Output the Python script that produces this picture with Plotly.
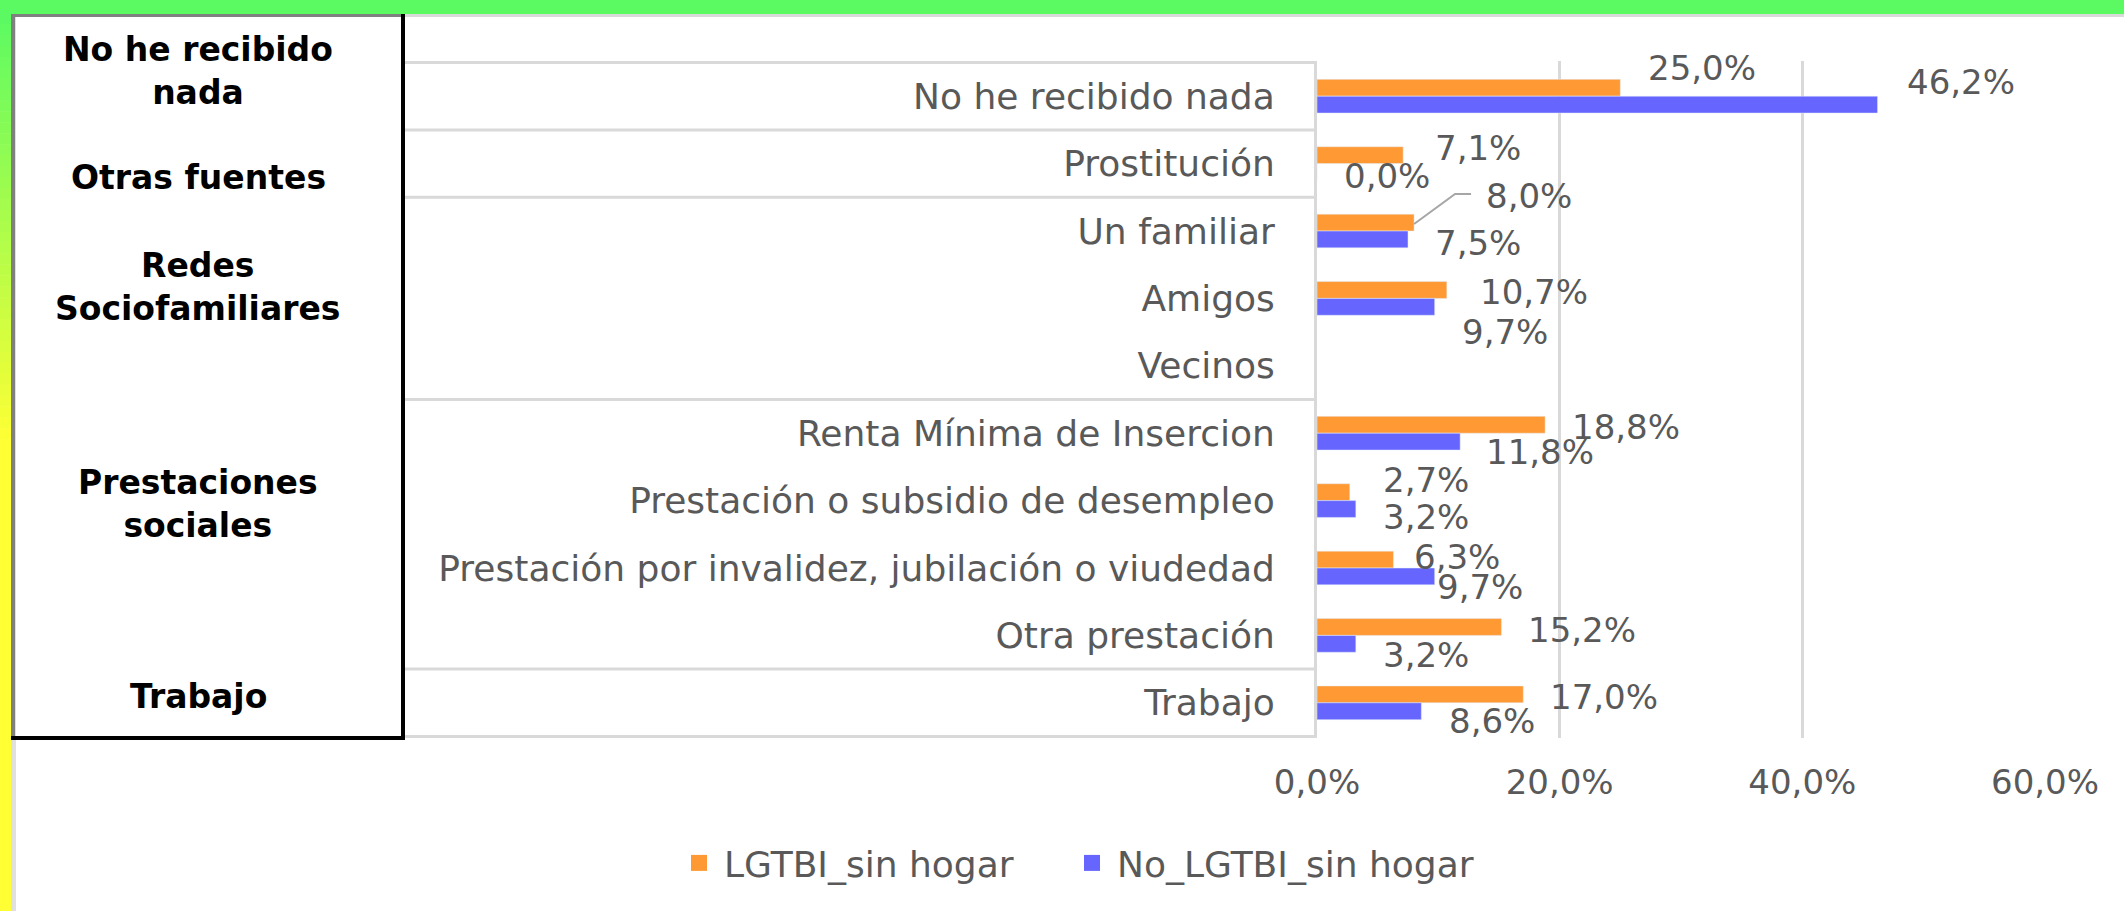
import plotly.graph_objects as go

# ---------------- data ----------------
categories = [
    "No he recibido nada",
    "Prostitución",
    "Un familiar",
    "Amigos",
    "Vecinos",
    "Renta Mínima de Insercion",
    "Prestación o subsidio de desempleo",
    "Prestación por invalidez, jubilación o viudedad",
    "Otra prestación",
    "Trabajo",
]
lgtbi = [25.0, 7.1, 8.0, 10.7, None, 18.8, 2.7, 6.3, 15.2, 17.0]
no_lgtbi = [46.2, 0.0, 7.5, 9.7, None, 11.8, 3.2, 9.7, 3.2, 8.6]
series_names = ["LGTBI_sin hogar", "No_LGTBI_sin hogar"]
group_labels = ["No he recibido<br>nada", "Otras fuentes", "Redes<br>Sociofamiliares",
                "Prestaciones<br>sociales", "Trabajo"]
group_sizes = [1, 1, 3, 4, 1]
x_ticks = [0, 20, 40, 60]

# ---------------- styling / placement (not data) ----------------
W, H = 2124, 911
L, R, T, B = 1317, 79, 61, 173
PW, PH = W - L - R, H - T - B
ORANGE = "#FF9933"
BLUE = "#6666FF"
GRAY_TXT = "#595959"
GRID = "#D9D9D9"
FONT = "DejaVu Sans"
FS_CAT = 36
FS_NUM = 34
FS_LEG = 36

# label offsets (px from bar end, px from category centre, +down)
lgtbi_off = [(26, -28), (30, -16), (70, -35), (31, -6), None, (25, -6), (31, -21), (19, -11), (25, -5), (25, -6)]
no_lgtbi_off = [(27, -14), (25, 12), (25, 12), (25, 34), None, (24, 19), (25, 16), (0, 19), (25, 20), (26, 18)]
# left group label centres (px)
group_label_pos = [(198, 71), (198, 177), (198, 287), (198, 504), (198, 696)]
# legend entry left positions (px)
legend_x = [674, 1067]


def px(x):
    return (x - L) / PW


def py(y):
    return (H - B - y) / PH


def fmt(v):
    return f"{v:.1f}%".replace(".", ",")


fig = go.Figure()
for name, vals, col in [(series_names[0], lgtbi, ORANGE), (series_names[1], no_lgtbi, BLUE)]:
    fig.add_trace(go.Bar(
        orientation="h",
        y=categories,
        x=[None if v is None else v / 100 for v in vals],
        name=name,
        marker=dict(color=col),
        showlegend=False,
        legendgroup=name,
        hovertemplate="%{y}: %{x:.1%}<extra>" + name + "</extra>",
    ))
# legend entries (larger square swatches, as in the reference)
for k, (name, col) in enumerate([(series_names[0], ORANGE), (series_names[1], BLUE)]):
    fig.add_trace(go.Scatter(
        x=[None], y=[None], mode="markers", name=name, legendgroup=name,
        legend="legend" if k == 0 else "legend2",
        marker=dict(symbol="square", size=20, color=col), showlegend=True, hoverinfo="skip",
    ))

annotations = []
for vals, offs in [(lgtbi, lgtbi_off), (no_lgtbi, no_lgtbi_off)]:
    for cat, v, o in zip(categories, vals, offs):
        if v is None:
            continue
        annotations.append(dict(
            x=v / 100, y=cat, xref="x", yref="y", text=fmt(v), showarrow=False,
            xanchor="left", yanchor="middle", xshift=o[0], yshift=-o[1],
            font=dict(family=FONT, size=FS_NUM, color=GRAY_TXT),
        ))

for lab, (cx, cy) in zip(group_labels, group_label_pos):
    annotations.append(dict(
        x=px(cx), y=py(cy), xref="paper", yref="paper", text="<b>" + lab + "</b>",
        showarrow=False, xanchor="center", yanchor="middle", align="center",
        font=dict(family=FONT, size=33, color="black"),
    ))

shapes = []
# frame: green band and gradient strip
shapes.append(dict(type="rect", xref="paper", yref="paper", x0=px(0), x1=px(W), y0=py(0), y1=py(14),
                   fillcolor="rgb(92,250,98)", line=dict(width=0), layer="above"))
g0, g1 = (92, 250, 98), (255, 255, 51)
N = 40
y_top, y_end = 13, 450
for i in range(N):
    t = i / (N - 1)
    c = tuple(int(round(a + (b - a) * t)) for a, b in zip(g0, g1))
    ya = y_top + (y_end - y_top) * i / N
    yb = y_top + (y_end - y_top) * (i + 1) / N
    shapes.append(dict(type="rect", xref="paper", yref="paper", x0=px(0), x1=px(11), y0=py(ya), y1=py(yb + 0.5),
                       fillcolor="rgb(%d,%d,%d)" % c, line=dict(width=0), layer="above"))
shapes.append(dict(type="rect", xref="paper", yref="paper", x0=px(0), x1=px(11), y0=py(y_end), y1=py(H),
                   fillcolor="rgb(255,255,51)", line=dict(width=0), layer="above"))
# light gray inner frame lines
shapes.append(dict(type="rect", xref="paper", yref="paper", x0=px(11), x1=px(W), y0=py(14), y1=py(17),
                   fillcolor=GRID, line=dict(width=0), layer="above"))
shapes.append(dict(type="rect", xref="paper", yref="paper", x0=px(11), x1=px(16), y0=py(14), y1=py(H),
                   fillcolor="#E0E0E0", line=dict(width=0), layer="above"))
# left box
shapes.append(dict(type="rect", xref="paper", yref="paper", x0=px(11), x1=px(15), y0=py(14), y1=py(740),
                   fillcolor="#808080", line=dict(width=0), layer="above"))
shapes.append(dict(type="rect", xref="paper", yref="paper", x0=px(11), x1=px(404), y0=py(14), y1=py(17),
                   fillcolor="#808080", line=dict(width=0), layer="above"))
shapes.append(dict(type="rect", xref="paper", yref="paper", x0=px(401), x1=px(405), y0=py(14), y1=py(740),
                   fillcolor="black", line=dict(width=0), layer="above"))
shapes.append(dict(type="rect", xref="paper", yref="paper", x0=px(11), x1=px(405), y0=py(736), y1=py(740),
                   fillcolor="black", line=dict(width=0), layer="above"))
# table separators at group boundaries
bounds = [-0.5]
for s in group_sizes:
    bounds.append(bounds[-1] + s)
for b in bounds:
    shapes.append(dict(type="line", xref="paper", yref="y", x0=px(405), x1=0, y0=b, y1=b,
                       line=dict(color=GRID, width=3), layer="above"))
# leader line for "Un familiar" LGTBI label
shapes.append(dict(type="path", xref="x", yref="y", xsizemode="pixel", ysizemode="pixel",
                   xanchor=lgtbi[2] / 100, yanchor=categories.index("Un familiar"),
                   path="M0,7 L41,37 L57,37", line=dict(color="#A6A6A6", width=2)))

legend_common = dict(orientation="h", xanchor="left", yanchor="middle", y=py(863),
                     itemsizing="trace", itemwidth=40,
                     font=dict(family=FONT, size=FS_LEG, color=GRAY_TXT), bgcolor="rgba(0,0,0,0)")

fig.update_layout(
    width=W, height=H,
    margin=dict(l=L, r=R, t=T, b=B, pad=0),
    paper_bgcolor="white", plot_bgcolor="white",
    separators=",.",
    barmode="group", bargap=0.5, bargroupgap=0,
    font=dict(family=FONT, size=FS_NUM, color=GRAY_TXT),
    xaxis=dict(range=[0, 0.6], tickvals=[t / 100 for t in x_ticks], tickformat=".1%",
               showgrid=True, gridcolor=GRID, gridwidth=3, zeroline=False, showline=False,
               ticks="", ticklabelstandoff=21, tickfont=dict(family=FONT, size=FS_NUM, color=GRAY_TXT),
               fixedrange=True),
    yaxis=dict(type="category", categoryorder="array", categoryarray=categories, autorange="reversed",
               showgrid=False, zeroline=False, showline=True, linecolor=GRID, linewidth=3,
               ticks="", ticklabelstandoff=32, tickfont=dict(family=FONT, size=FS_CAT, color=GRAY_TXT),
               fixedrange=True),
    legend=dict(x=px(legend_x[0]), **legend_common),
    legend2=dict(x=px(legend_x[1]), **legend_common),
    annotations=annotations,
    shapes=shapes,
)

fig.write_html("out.html", config={"displayModeBar": False},
               post_script="document.body.style.margin='0px';document.body.style.overflow='hidden';")
